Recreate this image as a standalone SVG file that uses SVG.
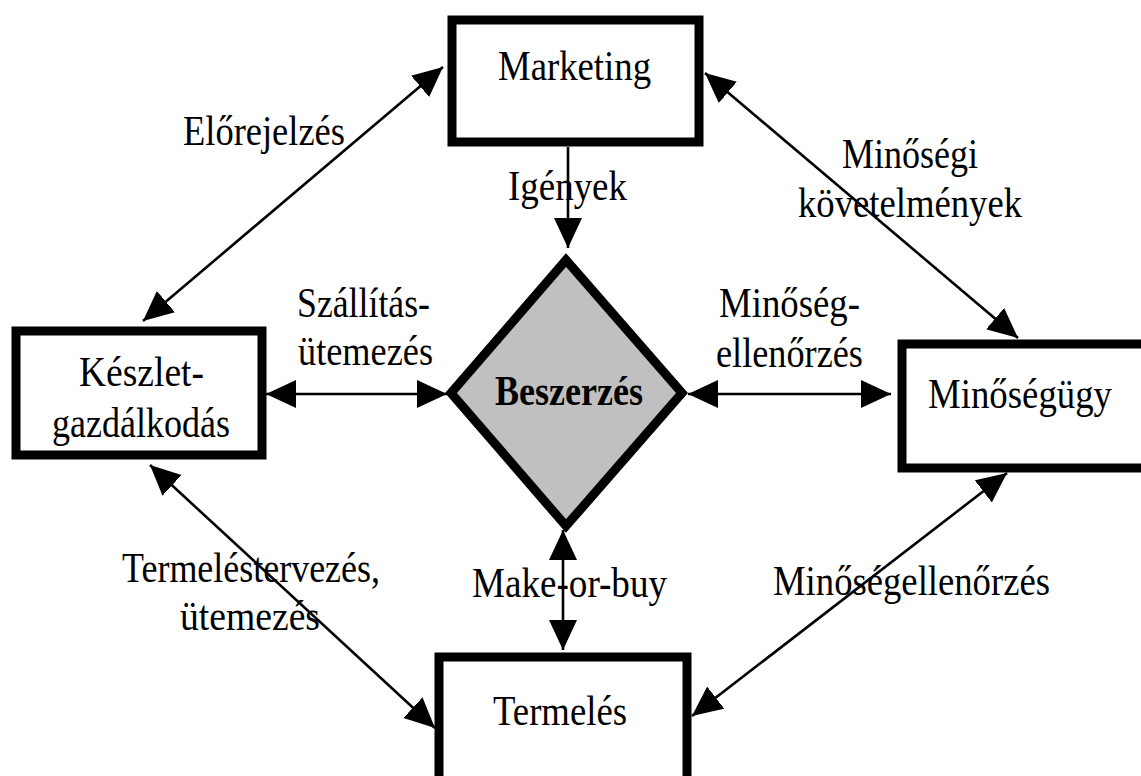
<svg xmlns="http://www.w3.org/2000/svg" width="1141" height="776" viewBox="0 0 1141 776">
<style>
.box{fill:#ffffff;stroke:#000000;stroke-width:9}
.dia{fill:#c0c0c0;stroke:#000000;stroke-width:9;stroke-linejoin:miter}
.lbl{font-family:"Liberation Serif","Times New Roman",serif;font-size:42px;fill:#000000}
.bold{font-weight:bold}
.con{stroke:#000000;stroke-width:2.6;fill:none}
.both{marker-start:url(#ah);marker-end:url(#ah)}
.end{marker-end:url(#ah)}
</style>
<defs>
<marker id="ah" markerUnits="userSpaceOnUse" markerWidth="32" markerHeight="30" refX="30" refY="14" orient="auto-start-reverse" viewBox="0 0 32 30">
<path d="M0,0 L30,14 L0,28 Z" fill="#000000"/>
</marker>
</defs>
<rect width="1141" height="776" fill="#ffffff"/>
<g id="connectors">
<line class="con end" x1="568" y1="147" x2="568" y2="248"/>
<line class="con both" x1="563" y1="530" x2="563" y2="650"/>
<line class="con both" x1="266" y1="394" x2="447" y2="394"/>
<line class="con both" x1="688" y1="394" x2="891" y2="394"/>
<line class="con both" x1="143" y1="321" x2="443" y2="67"/>
<line class="con both" x1="705" y1="73" x2="1018" y2="338"/>
<line class="con both" x1="150" y1="465" x2="435" y2="728"/>
<line class="con both" x1="1007" y1="473" x2="692" y2="716"/>
</g>
<g id="marketing">
<rect class="box" x="452" y="20" width="247" height="122"/>
<text class="lbl" x="498" y="80" textLength="153" lengthAdjust="spacingAndGlyphs">Marketing</text>
</g>
<g id="keszlet">
<rect class="box" x="16" y="331" width="246" height="124"/>
<text class="lbl" x="79" y="386" textLength="125" lengthAdjust="spacingAndGlyphs">Készlet-</text>
<text class="lbl" x="52" y="437" textLength="178" lengthAdjust="spacingAndGlyphs">gazdálkodás</text>
</g>
<g id="minosegugy">
<rect class="box" x="902" y="344" width="260" height="124"/>
<text class="lbl" x="928" y="408" textLength="184" lengthAdjust="spacingAndGlyphs">Minőségügy</text>
</g>
<g id="termeles">
<rect class="box" x="439" y="657" width="248" height="140"/>
<text class="lbl" x="493" y="725" textLength="134" lengthAdjust="spacingAndGlyphs">Termelés</text>
</g>
<g id="beszerzes">
<path class="dia" d="M566,260 L682,393 L566,526 L451,393 Z"/>
<text class="lbl bold" x="495" y="405" textLength="148" lengthAdjust="spacingAndGlyphs">Beszerzés</text>
</g>
<g id="labels">
<text class="lbl" x="508" y="200" textLength="119" lengthAdjust="spacingAndGlyphs">Igények</text>
<text class="lbl" x="297" y="317" textLength="133" lengthAdjust="spacingAndGlyphs">Szállítás-</text>
<text class="lbl" x="298" y="365" textLength="135" lengthAdjust="spacingAndGlyphs">ütemezés</text>
<text class="lbl" x="719" y="317" textLength="141" lengthAdjust="spacingAndGlyphs">Minőség-</text>
<text class="lbl" x="716" y="367" textLength="147" lengthAdjust="spacingAndGlyphs">ellenőrzés</text>
<text class="lbl" x="183" y="145" textLength="162" lengthAdjust="spacingAndGlyphs">Előrejelzés</text>
<text class="lbl" x="842" y="168" textLength="136" lengthAdjust="spacingAndGlyphs">Minőségi</text>
<text class="lbl" x="798" y="217" textLength="224" lengthAdjust="spacingAndGlyphs">követelmények</text>
<text class="lbl" x="122" y="582" textLength="258" lengthAdjust="spacingAndGlyphs">Termeléstervezés,</text>
<text class="lbl" x="180" y="630" textLength="140" lengthAdjust="spacingAndGlyphs">ütemezés</text>
<text class="lbl" x="472" y="597" textLength="195" lengthAdjust="spacingAndGlyphs">Make-or-buy</text>
<text class="lbl" x="773" y="595" textLength="277" lengthAdjust="spacingAndGlyphs">Minőségellenőrzés</text>
</g>
</svg>
